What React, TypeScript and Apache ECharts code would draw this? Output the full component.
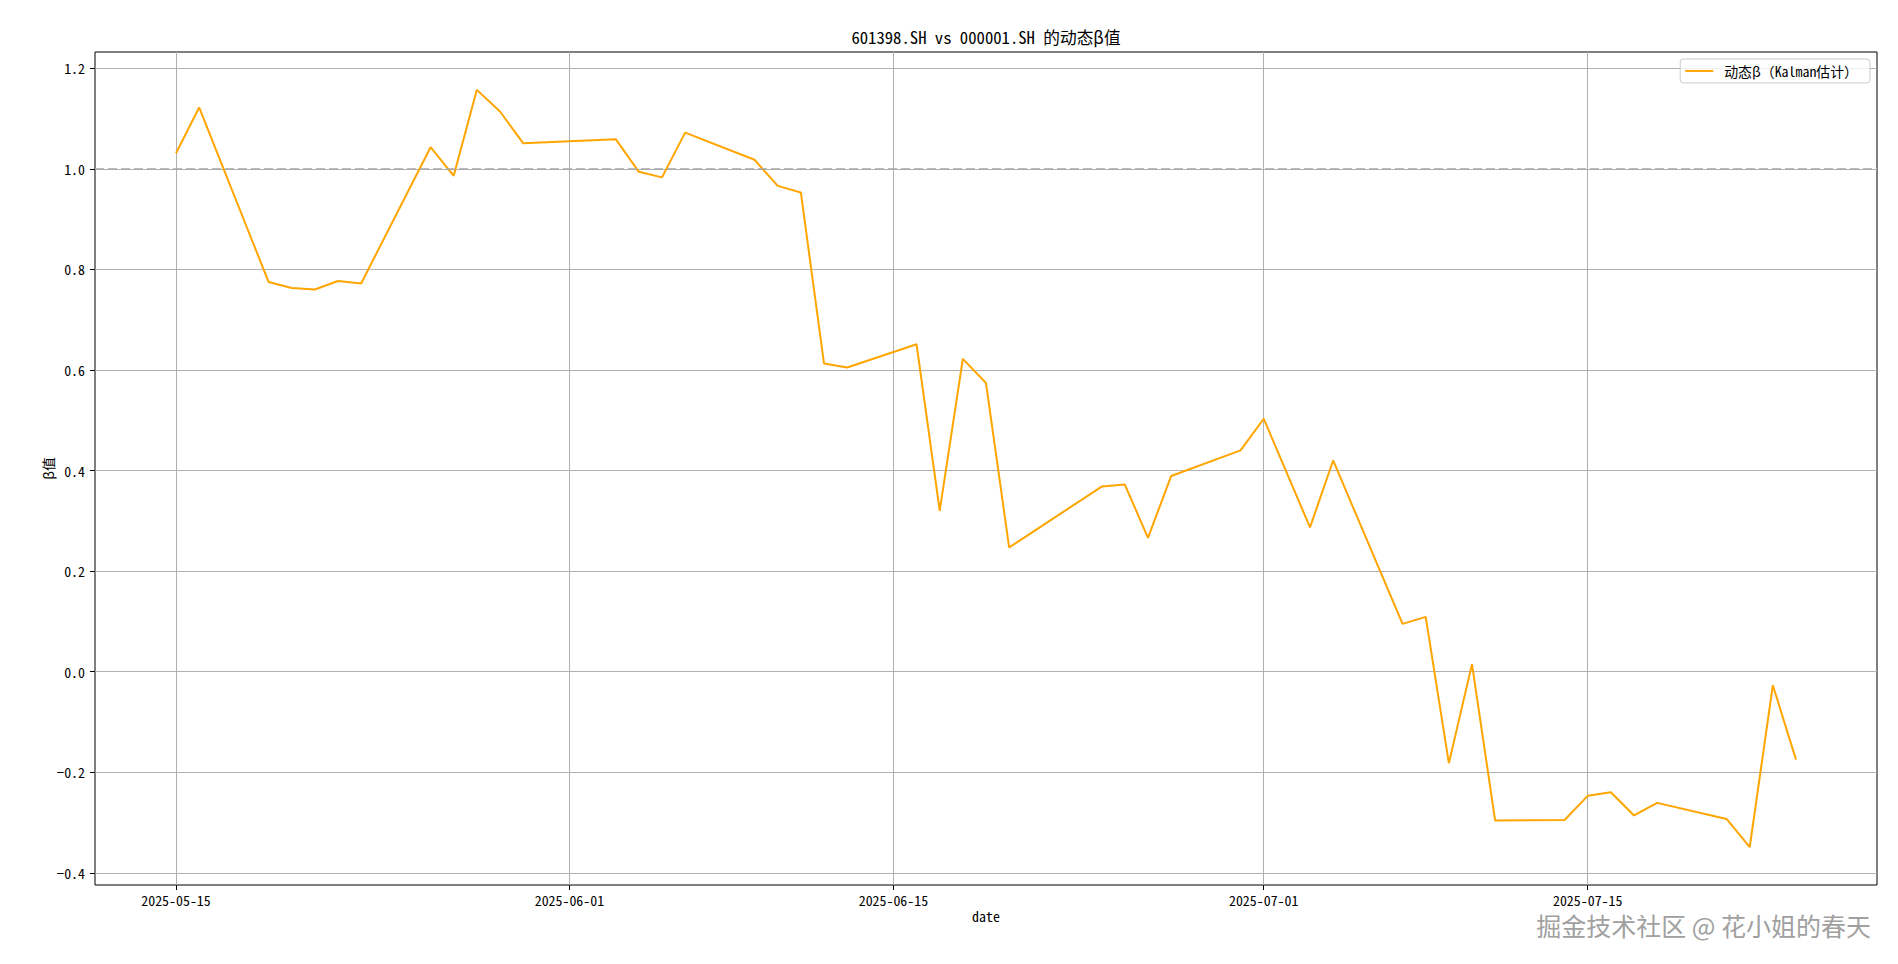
import React, { useEffect, useRef } from 'react';
import * as echarts from 'echarts';

// ---- data ----
const dates: string[] = [
  '2025-05-15', '2025-05-16', '2025-05-19', '2025-05-20', '2025-05-21', '2025-05-22', '2025-05-23',
  '2025-05-26', '2025-05-27', '2025-05-28', '2025-05-29', '2025-05-30',
  '2025-06-03', '2025-06-04', '2025-06-05', '2025-06-06',
  '2025-06-09', '2025-06-10', '2025-06-11', '2025-06-12', '2025-06-13',
  '2025-06-16', '2025-06-17', '2025-06-18', '2025-06-19', '2025-06-20',
  '2025-06-24', '2025-06-25', '2025-06-26', '2025-06-27',
  '2025-06-30', '2025-07-01', '2025-07-03', '2025-07-04',
  '2025-07-07', '2025-07-08', '2025-07-09', '2025-07-10', '2025-07-11',
  '2025-07-14', '2025-07-15', '2025-07-16', '2025-07-17', '2025-07-18',
  '2025-07-21', '2025-07-22', '2025-07-23', '2025-07-24',
];
const betaValues: number[] = [
  1.031, 1.122, 0.775, 0.763, 0.760, 0.777, 0.772,
  1.043, 0.986, 1.157, 1.114, 1.051,
  1.059, 0.994, 0.983, 1.072,
  1.018, 0.966, 0.953, 0.613, 0.605,
  0.651, 0.320, 0.622, 0.574, 0.247,
  0.368, 0.372, 0.266, 0.389,
  0.440, 0.503, 0.287, 0.420,
  0.095, 0.109, -0.182, 0.015, -0.296,
  -0.295, -0.247, -0.240, -0.286, -0.261,
  -0.293, -0.349, -0.027, -0.175,
];
const xTickDates: string[] = ['2025-05-15', '2025-06-01', '2025-06-15', '2025-07-01', '2025-07-15'];
const yTickValues: number[] = [-0.4, -0.2, 0.0, 0.2, 0.4, 0.6, 0.8, 1.0, 1.2];
const referenceBeta = 1.0;
const titleText = '601398.SH vs 000001.SH 的动态β值';
const seriesName = '动态β（Kalman估计）';
const xAxisName = 'date';
const yAxisName = 'β值';
const watermarkText = '掘金技术社区 @ 花小姐的春天';

const FONT = "'Noto Sans Mono CJK SC', 'Noto Sans CJK SC', 'DejaVu Sans', sans-serif";

function toTs(s: string): number {
  const [y, m, d] = s.split('-').map(Number);
  return new Date(y, m - 1, d).getTime();
}
function pad2(n: number) {
  return n < 10 ? '0' + n : '' + n;
}
function fmtDate(v: number): string {
  const d = new Date(Math.round(v));
  return d.getFullYear() + '-' + pad2(d.getMonth() + 1) + '-' + pad2(d.getDate());
}

export default function App() {
  const ref = useRef<HTMLDivElement>(null);

  useEffect(() => {
    if (!ref.current) return;
    const chart = echarts.init(ref.current, null, { renderer: 'svg' });

    const xs = dates.map(toTs);
    const xFirst = xs[0];
    const xLast = xs[xs.length - 1];
    const xSpan = xLast - xFirst;
    const xMin = xFirst - 0.05 * xSpan;
    const xMax = xLast + 0.05 * xSpan;

    const yLo = Math.min(...betaValues);
    const yHi = Math.max(...betaValues);
    const ySpan = yHi - yLo;
    const yMin = yLo - 0.05 * ySpan;
    const yMax = yHi + 0.05 * ySpan;

    const xTicks = xTickDates.map(toTs);

    const option: any = {
      animation: false,
      backgroundColor: '#ffffff',
      title: {
        text: titleText,
        left: 986,
        top: 29,
        textAlign: 'center',
        padding: 0,
        textStyle: { fontSize: 16.7, fontWeight: 'normal', color: '#000', fontFamily: FONT },
      },
      legend: {
        data: [{ name: seriesName, icon: 'rect' }],
        right: 28,
        top: 59,
        itemWidth: 28,
        itemHeight: 2,
        padding: [5, 12, 5, 5],
        borderColor: '#cccccc',
        borderWidth: 1,
        borderRadius: 3,
        backgroundColor: 'rgba(255,255,255,0.8)',
        textStyle: { fontSize: 13.9, color: '#000', fontFamily: FONT, padding: [0, 0, 0, 6] },
      },
      grid: {
        show: true,
        left: 95,
        top: 52,
        right: 21,
        bottom: 79,
        borderColor: '#000',
        borderWidth: 1,
        backgroundColor: 'transparent',
      },
      xAxis: {
        type: 'value',
        min: xMin,
        max: xMax,
        name: xAxisName,
        nameLocation: 'middle',
        nameGap: 24,
        nameMoveOverlap: false,
        nameTextStyle: { fontSize: 13.9, color: '#000', fontFamily: FONT },
        axisLine: { show: false, onZero: false },
        axisTick: {
          show: true,
          customValues: xTicks,
          length: 5,
          lineStyle: { color: '#000', width: 1 },
        },
        axisLabel: {
          customValues: xTicks,
          formatter: (v: number) => fmtDate(v),
          fontSize: 13.9,
          color: '#000',
          fontFamily: FONT,
          margin: 8,
        },
        splitLine: { show: true, lineStyle: { color: '#b0b0b0', width: 1 } },
      },
      yAxis: {
        type: 'value',
        min: yMin,
        max: yMax,
        name: yAxisName,
        nameLocation: 'middle',
        nameRotate: 90,
        nameGap: 40,
        nameMoveOverlap: false,
        nameTextStyle: { fontSize: 13.9, color: '#000', fontFamily: FONT },
        axisLine: { show: false, onZero: false },
        axisTick: {
          show: true,
          customValues: yTickValues,
          length: 5,
          lineStyle: { color: '#000', width: 1 },
        },
        axisLabel: {
          customValues: yTickValues,
          formatter: (v: number) => v.toFixed(1).replace('-', '\u2212'),
          fontSize: 13.9,
          color: '#000',
          fontFamily: FONT,
          margin: 10,
        },
        splitLine: { show: true, lineStyle: { color: '#b0b0b0', width: 1 } },
      },
      series: [
        {
          name: seriesName,
          type: 'line',
          data: xs.map((x, i) => [x, betaValues[i]]),
          showSymbol: false,
          symbol: 'none',
          itemStyle: { color: '#FFA500' },
          lineStyle: { color: '#FFA500', width: 2 },
          markLine: {
            silent: true,
            symbol: ['none', 'none'],
            label: { show: false },
            lineStyle: { type: [9, 4], color: '#a6a6a6', width: 1.5 },
            data: [{ yAxis: referenceBeta }],
          },
        },
      ],
      graphic: [
        {
          type: 'text',
          right: 27,
          top: 912,
          style: {
            text: watermarkText,
            fontSize: 25,
            lineHeight: 25,
            fontFamily: "'Noto Sans CJK SC', sans-serif",
            fill: '#a0a0a0',
            shadowColor: 'rgba(0,0,0,0.55)',
            shadowOffsetX: 1,
            shadowOffsetY: 1,
            shadowBlur: 1,
          },
        },
      ],
    };

    chart.setOption(option);
    return () => {
      chart.dispose();
    };
  }, []);

  return (
    <div
      ref={ref}
      style={{ position: 'fixed', left: 0, top: 0, width: 1898, height: 964, background: '#fff' }}
    />
  );
}
